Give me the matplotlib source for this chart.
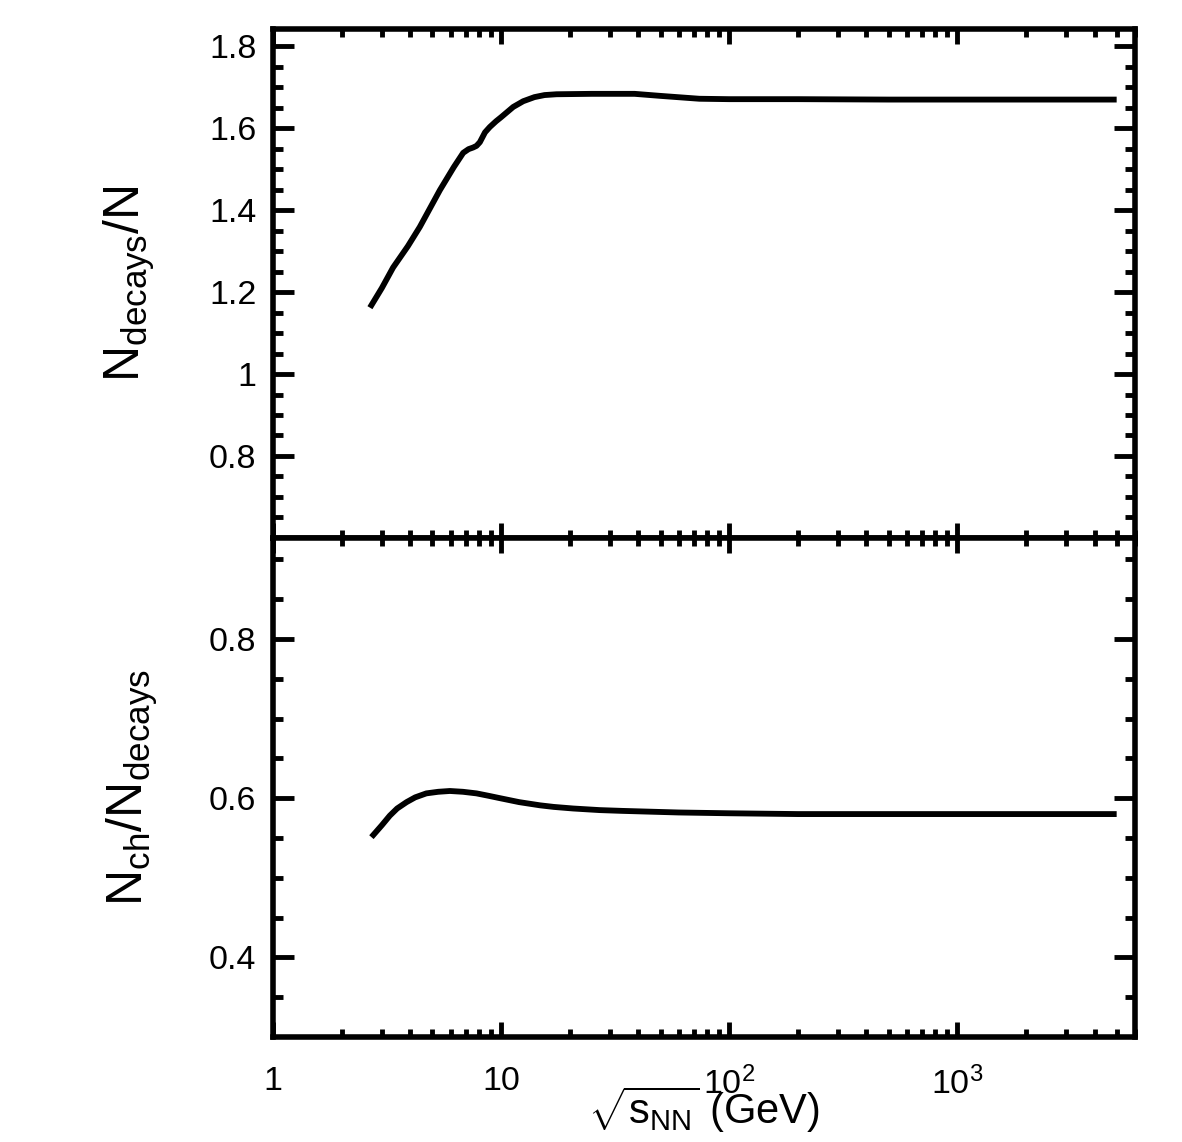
import matplotlib
matplotlib.use("Agg")
import matplotlib.pyplot as plt
import numpy as np
from matplotlib.ticker import FixedLocator, FixedFormatter, FuncFormatter, LogLocator, NullFormatter

plt.rcParams['font.family'] = ['Liberation Sans', 'DejaVu Sans']
plt.rcParams['mathtext.fontset'] = 'custom'
plt.rcParams['mathtext.rm'] = 'Liberation Sans'
plt.rcParams['mathtext.it'] = 'Liberation Sans'

# top panel: N_decays / N vs sqrt(s_NN)
energy_top = [2.66, 3.0, 3.36, 3.9, 4.4, 5.39, 6.2, 6.82, 7.2, 7.54, 7.8, 8.07, 8.5,
              8.92, 9.5, 10.0, 11.3, 12.5, 14.0, 15.5, 17.5, 25.0, 38.5, 50.0, 74.0,
              100.0, 200.0, 500.0, 1000.0, 2000.0, 5000.0]
ratio_top = [1.162, 1.21, 1.26, 1.312, 1.359, 1.449, 1.505, 1.54, 1.549, 1.553, 1.557,
             1.566, 1.59, 1.603, 1.617, 1.627, 1.652, 1.666, 1.676, 1.681, 1.683,
             1.684, 1.684, 1.679, 1.672, 1.671, 1.671, 1.670, 1.670, 1.670, 1.670]

# bottom panel: N_ch / N_decays
energy_bot = [2.7, 3.0, 3.25, 3.5, 3.85, 4.2, 4.7, 5.3, 5.96, 6.8, 7.8, 8.8, 9.87,
              12.0, 14.8, 17.0, 20.7, 27.0, 34.0, 60.0, 100.0, 200.0, 500.0, 1000.0,
              5000.0]
ratio_bot = [0.551, 0.566, 0.578, 0.587, 0.595, 0.601, 0.606, 0.608, 0.609, 0.608,
             0.606, 0.603, 0.600, 0.595, 0.591, 0.589, 0.587, 0.585, 0.584, 0.582,
             0.581, 0.580, 0.580, 0.580, 0.580]

x_ticks = [1, 10, 100, 1000]
x_labels = ['1', '10', r'$\mathregular{10^2}$', r'$\mathregular{10^3}$']

fig = plt.figure(figsize=(11.82, 11.42), dpi=100)
ax1 = fig.add_axes([0.231, 0.529, 0.729, 0.4455])
ax2 = fig.add_axes([0.231, 0.092, 0.729, 0.437], sharex=ax1)

lw = 4.2
ax1.plot(energy_top, ratio_top, color='black', lw=lw, solid_capstyle='butt', solid_joinstyle='round')
ax2.plot(energy_bot, ratio_bot, color='black', lw=lw, solid_capstyle='butt', solid_joinstyle='round')

for ax in (ax1, ax2):
    ax.set_xscale('log')
    ax.set_xlim(1, 6000)
    for s in ax.spines.values():
        s.set_linewidth(4)
    ax.tick_params(which='both', direction='in', top=True, right=True, width=3.5)
    ax.tick_params(axis='y', which='major', length=15, labelsize=24.5, pad=12)
    ax.tick_params(axis='y', which='minor', length=7)
    ax.tick_params(axis='x', which='major', length=11, labelsize=24.5, pad=21)
    ax.tick_params(axis='x', which='minor', length=6)
    ax.xaxis.set_major_locator(FixedLocator(x_ticks))
    ax.xaxis.set_minor_locator(LogLocator(base=10, subs=np.arange(2, 10), numticks=20))
    ax.xaxis.set_minor_formatter(NullFormatter())
    ax.yaxis.set_major_formatter(FuncFormatter(lambda v, p: '%g' % round(v, 2)))

ax1.set_ylim(0.6, 1.842)
ax1.yaxis.set_major_locator(FixedLocator([0.8, 1.0, 1.2, 1.4, 1.6, 1.8]))
ax1.yaxis.set_minor_locator(FixedLocator(np.arange(0.65, 1.85, 0.05)))
ax1.tick_params(axis='x', labelbottom=False)

ax2.set_ylim(0.3, 0.927)
ax2.yaxis.set_major_locator(FixedLocator([0.4, 0.6, 0.8]))
ax2.yaxis.set_minor_locator(FixedLocator(np.arange(0.35, 0.93, 0.05)))
ax2.xaxis.set_major_formatter(FixedFormatter(x_labels))

ax1.set_ylabel(r'$\mathregular{N_{decays}/N}$', fontsize=36, labelpad=37)
ax2.set_ylabel(r'$\mathregular{N_{ch}/N_{decays}}$', fontsize=36, labelpad=35)
ax2.set_xlabel(r'$\sqrt{\mathregular{s_{NN}}}$ (GeV)', fontsize=30, labelpad=-12)

fig.savefig('out.png', dpi=100)
